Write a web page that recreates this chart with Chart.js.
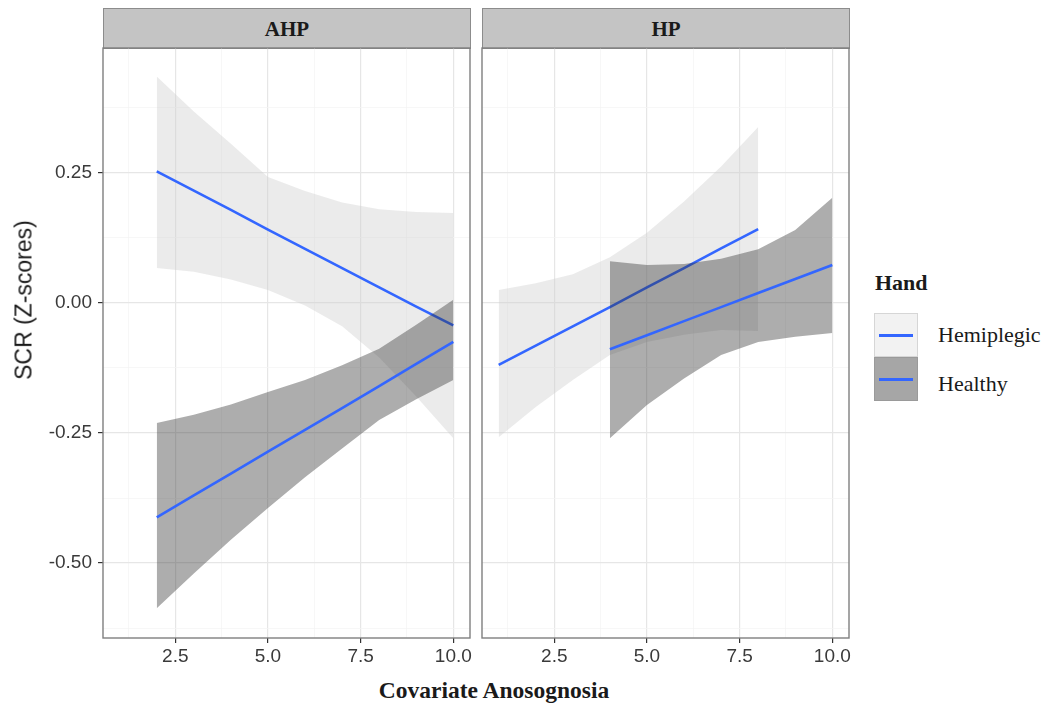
<!DOCTYPE html>
<html>
<head>
<meta charset="utf-8">
<script src="https://cdn.jsdelivr.net/npm/chart.js@4.4.1/dist/chart.umd.min.js"></script>
<style>
  body { margin: 0; background: #fff; width: 1046px; height: 706px; position: relative; overflow: hidden; }
  canvas { position: absolute; }
  .strip { position: absolute; top: 8px; height: 41px; box-sizing: border-box; background: #c4c4c4;
           border: 1px solid #8c8c8c; font: bold 21px "Liberation Serif", serif; color: #1a1a1a;
           text-align: center; line-height: 40px; }
  .ytitle { position: absolute; left: 24px; top: 300px; transform: translate(-50%, -50%) rotate(-90deg);
            white-space: nowrap; font: 23px "Liberation Sans", Arial, sans-serif; color: #1a1a1a; }
  .xtitle { position: absolute; left: 494px; top: 690px; transform: translate(-50%, -50%);
            white-space: nowrap; font: bold 23.5px "Liberation Serif", serif; color: #1a1a1a; }
  .legend-title { position: absolute; left: 875px; top: 270px; line-height: 22px; font: bold 22px "Liberation Serif", serif; color: #1a1a1a; }
  .key { position: absolute; left: 874px; width: 44px; height: 44px; box-sizing: border-box; }
  .key span { position: absolute; left: 4px; right: 4px; top: 20px; height: 3px; background: #3366ff; }
  .key-label { position: absolute; left: 938px; line-height: 22px; font: 22px "Liberation Serif", serif; color: #1a1a1a; white-space: nowrap; }
</style>
</head>
<body>
<div class="strip" style="left:103px; width:368px;">AHP</div>
<div class="strip" style="left:482px; width:368px;">HP</div>
<canvas id="ahpChart" width="474" height="628" style="left:0; top:44px;"></canvas>
<canvas id="hpChart" width="375" height="628" style="left:478px; top:44px;"></canvas>
<div class="ytitle">SCR (Z-scores)</div>
<div class="xtitle">Covariate Anosognosia</div>
<div class="legend-title">Hand</div>
<div class="key" style="top:313px; background:#f2f2f2; border:1px solid #d6d6d6;"><span></span></div>
<div class="key" style="top:357px; background:#a6a6a6; border:1px solid #9a9a9a;"><span></span></div>
<div class="key-label" style="top:322px;">Hemiplegic</div>
<div class="key-label" style="top:371px;">Healthy</div>

<script>
// axis layout
const xRange = [0.55, 10.45];
const yRange = [-0.644, 0.49];
const xMajorTicks = [2.5, 5.0, 7.5, 10.0];
const xMinorTicks = [1.25, 3.75, 6.25, 8.75];
const yMajorTicks = [-0.5, -0.25, 0, 0.25];
const yMinorTicks = [-0.625, -0.375, -0.125, 0.125, 0.375];

// AHP panel: fitted line with confidence band per hand
const ahpX = [2, 3, 4, 5, 6, 7, 8, 9, 10];
const ahpHemiFit = [0.253, 0.216, 0.179, 0.141, 0.104, 0.067, 0.030, -0.007, -0.043];
const ahpHemiUpper = [0.435, 0.368, 0.306, 0.242, 0.215, 0.193, 0.180, 0.175, 0.173];
const ahpHemiLower = [0.067, 0.060, 0.045, 0.025, -0.005, -0.045, -0.105, -0.180, -0.260];
const ahpHealthyFit = [-0.412, -0.370, -0.328, -0.286, -0.244, -0.202, -0.160, -0.117, -0.075];
const ahpHealthyUpper = [-0.231, -0.215, -0.195, -0.171, -0.148, -0.120, -0.088, -0.042, 0.006];
const ahpHealthyLower = [-0.587, -0.520, -0.455, -0.394, -0.335, -0.280, -0.225, -0.185, -0.148];

// HP panel
const hpHemiX = [1, 2, 3, 4, 5, 6, 7, 8];
const hpHemiFit = [-0.119, -0.082, -0.045, -0.008, 0.030, 0.067, 0.105, 0.142];
const hpHemiUpper = [0.025, 0.038, 0.055, 0.088, 0.135, 0.195, 0.262, 0.338];
const hpHemiLower = [-0.258, -0.200, -0.148, -0.100, -0.075, -0.061, -0.052, -0.054];
const hpHealthyX = [4, 5, 6, 7, 8, 9, 10];
const hpHealthyFit = [-0.089, -0.062, -0.035, -0.008, 0.019, 0.046, 0.073];
const hpHealthyUpper = [0.080, 0.073, 0.075, 0.085, 0.103, 0.140, 0.202];
const hpHealthyLower = [-0.260, -0.196, -0.145, -0.100, -0.075, -0.065, -0.058];

const lineBlue = '#3366ff';
const hemiFill = 'rgba(204, 204, 204, 0.4)';
const healthyFill = 'rgba(51, 51, 51, 0.4)';
const tickFont = { family: '"Liberation Sans", Arial, sans-serif', size: 19 };

const pts = (xs, ys) => xs.map((x, i) => ({ x: x, y: ys[i] }));

// ribbons first, lines on top; Healthy group drawn after Hemiplegic
function groupDatasets(xs, fit, upper, lower, fill, baseIndex, baseOrder) {
  return [
    { data: pts(xs, upper), borderWidth: 0, borderColor: 'transparent', pointRadius: 0, fill: false, order: baseOrder + 1 },
    { data: pts(xs, lower), borderWidth: 0, borderColor: 'transparent', pointRadius: 0,
      fill: baseIndex, backgroundColor: fill, order: baseOrder + 1 },
    { data: pts(xs, fit), borderColor: lineBlue, borderWidth: 2.6, pointRadius: 0, fill: false, order: baseOrder },
  ];
}

const isIn = (list, v) => list.some((m) => Math.abs(m - v) < 1e-6);

// keep the plotting area fixed: no extra room for overhanging labels
function noPad(s) {
  s.paddingTop = 0; s.paddingBottom = 0; s.paddingLeft = 0; s.paddingRight = 0;
}

function axisScales(showY) {
  const gridOpts = (major) => ({
    color: (c) => (c.tick && isIn(major, c.tick.value) ? '#e6e6e6' : '#f4f4f4'),
    lineWidth: (c) => (c.tick && isIn(major, c.tick.value) ? 1.2 : 0.7),
    tickColor: (c) => (c.tick && isIn(major, c.tick.value) ? '#333333' : 'transparent'),
    tickLength: 5,
    tickWidth: 1.2,
  });
  return {
    x: {
      type: 'linear', min: xRange[0], max: xRange[1],
      afterBuildTicks: (s) => { s.ticks = [...xMinorTicks, ...xMajorTicks].sort((a, b) => a - b).map((v) => ({ value: v })); },
      afterFit: (s) => { s.height = 34; noPad(s); },
      grid: gridOpts(xMajorTicks),
      border: { display: false },
      ticks: {
        font: tickFont, color: '#3a3a3a', padding: 2, maxRotation: 0, autoSkip: false,
        callback: (v) => (isIn(xMajorTicks, v) ? v.toFixed(1) : ''),
      },
    },
    y: {
      type: 'linear', min: yRange[0], max: yRange[1],
      afterBuildTicks: (s) => { s.ticks = [...yMinorTicks, ...yMajorTicks].sort((a, b) => a - b).map((v) => ({ value: v })); },
      afterFit: (s) => { s.width = showY ? 103 : 0; noPad(s); },
      grid: Object.assign(gridOpts(yMajorTicks), showY ? {} : { drawTicks: false }),
      border: { display: false },
      ticks: {
        display: showY, font: tickFont, color: '#3a3a3a', padding: 6, autoSkip: false,
        callback: (v) => (isIn(yMajorTicks, v) ? v.toFixed(2) : ''),
      },
    },
  };
}

// panel frame around the plotting area
const panelBorder = {
  id: 'panelBorder',
  afterDraw(chart) {
    const { ctx, chartArea: a } = chart;
    ctx.save();
    ctx.strokeStyle = '#7f7f7f';
    ctx.lineWidth = 1.4;
    ctx.strokeRect(a.left, a.top, a.right - a.left, a.bottom - a.top);
    ctx.restore();
  },
};

function makePanel(id, groups, showY, padding) {
  let datasets = [];
  groups.forEach((g, gi) => {
    datasets = datasets.concat(groupDatasets(g.x, g.fit, g.upper, g.lower, g.fill, datasets.length, (groups.length - 1 - gi) * 2));
  });
  return new Chart(document.getElementById(id), {
    type: 'line',
    data: { datasets: datasets },
    options: {
      responsive: false,
      animation: false,
      layout: { padding: padding },
      elements: { line: { tension: 0 } },
      plugins: { legend: { display: false }, tooltip: { enabled: false } },
      scales: axisScales(showY),
    },
    plugins: [panelBorder],
  });
}

makePanel('ahpChart', [
  { x: ahpX, fit: ahpHemiFit, upper: ahpHemiUpper, lower: ahpHemiLower, fill: hemiFill },
  { x: ahpX, fit: ahpHealthyFit, upper: ahpHealthyUpper, lower: ahpHealthyLower, fill: healthyFill },
], true, { left: 0, right: 4, top: 4, bottom: 0 });

makePanel('hpChart', [
  { x: hpHemiX, fit: hpHemiFit, upper: hpHemiUpper, lower: hpHemiLower, fill: hemiFill },
  { x: hpHealthyX, fit: hpHealthyFit, upper: hpHealthyUpper, lower: hpHealthyLower, fill: healthyFill },
], false, { left: 4, right: 4, top: 4, bottom: 0 });
</script>
</body>
</html>
